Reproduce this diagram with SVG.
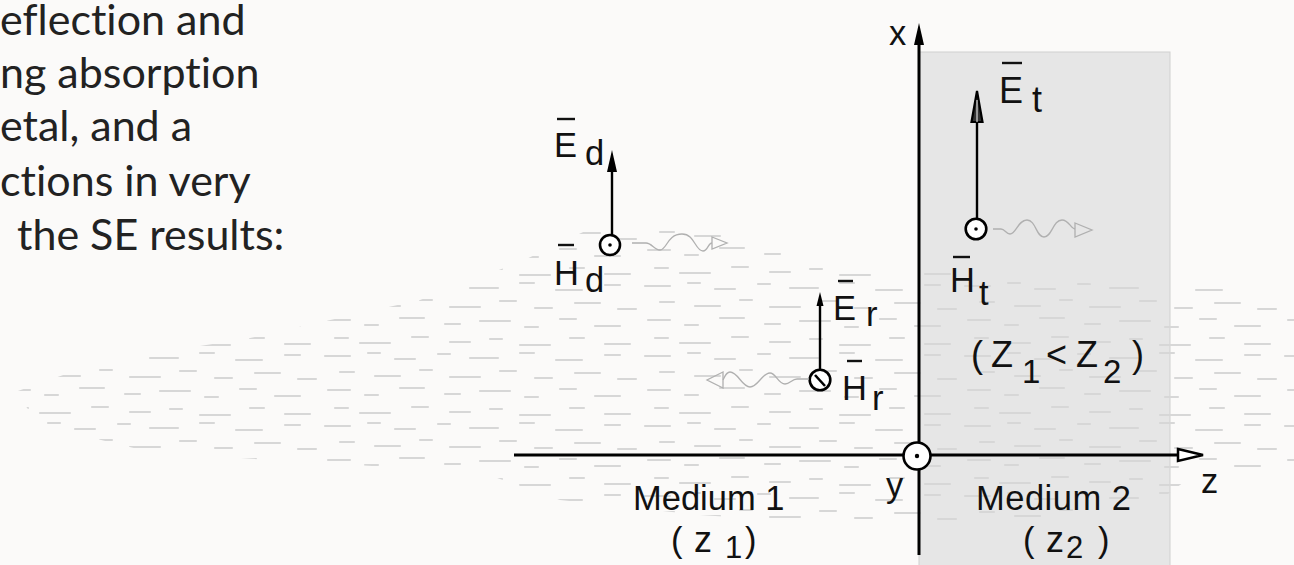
<svg xmlns="http://www.w3.org/2000/svg" width="1294" height="565" viewBox="0 0 1294 565">
<style>
.bg{fill:#fbfaf9}
.para{font-family:Lato,"Open Sans","Liberation Sans",sans-serif;font-size:43px;fill:#222;font-variant-ligatures:none}
.lbl{font-family:"Liberation Sans",Arial,sans-serif;font-size:34.5px;fill:#111}
.big{font-size:36px}
.sub{font-size:33px}
.sub2{font-size:31px}
.ax{stroke:#000;stroke-width:3;fill:none}
.vec{stroke:#000;stroke-width:2.4;fill:none}
.bar{stroke:#111;stroke-width:2.4}
.head{fill:#000}
.ring{fill:#fff;stroke:#000;stroke-width:2.6}
.dot{fill:#000}
.wave{fill:none;stroke:#b0b0b0;stroke-width:1.3}
.dash line{stroke:#d7d7d7;stroke-width:2.1;stroke-linecap:round}
</style>
<defs>
<pattern id="dashes" width="320" height="70" patternUnits="userSpaceOnUse">
<g class="dash">
<line x1="5" y1="6" x2="30" y2="6"/><line x1="48" y1="3" x2="60" y2="3"/><line x1="75" y1="9" x2="95" y2="9"/><line x1="118" y1="4" x2="130" y2="4"/><line x1="150" y1="8" x2="178" y2="8"/><line x1="200" y1="3" x2="214" y2="3"/><line x1="236" y1="10" x2="262" y2="10"/><line x1="285" y1="5" x2="300" y2="5"/>
<line x1="20" y1="22" x2="34" y2="22"/><line x1="55" y1="26" x2="80" y2="26"/><line x1="100" y1="20" x2="112" y2="20"/><line x1="130" y1="27" x2="160" y2="27"/><line x1="180" y1="21" x2="196" y2="21"/><line x1="215" y1="28" x2="232" y2="28"/><line x1="255" y1="23" x2="280" y2="23"/><line x1="298" y1="29" x2="316" y2="29"/>
<line x1="8" y1="40" x2="30" y2="40"/><line x1="45" y1="45" x2="58" y2="45"/><line x1="80" y1="38" x2="104" y2="38"/><line x1="125" y1="44" x2="140" y2="44"/><line x1="160" y1="41" x2="190" y2="41"/><line x1="205" y1="47" x2="218" y2="47"/><line x1="240" y1="39" x2="256" y2="39"/><line x1="275" y1="46" x2="300" y2="46"/>
<line x1="15" y1="58" x2="28" y2="58"/><line x1="40" y1="63" x2="70" y2="63"/><line x1="92" y1="57" x2="108" y2="57"/><line x1="130" y1="62" x2="150" y2="62"/><line x1="170" y1="59" x2="182" y2="59"/><line x1="200" y1="65" x2="230" y2="65"/><line x1="250" y1="58" x2="264" y2="58"/><line x1="285" y1="64" x2="310" y2="64"/>
</g>
</pattern>
<clipPath id="cloud">
<polygon points="15,392 100,362 250,338 420,300 520,262 600,224 700,222 780,250 860,268 950,272 1100,284 1200,288 1294,292 1294,470 1200,470 1160,500 1000,525 850,525 700,515 560,500 480,472 300,462 150,452 40,425"/>
</clipPath>
</defs>
<rect class="bg" x="0" y="0" width="1294" height="565"/>

<g id="paragraph">
<text class="para" x="0" y="35">eflection and</text>
<text class="para" x="0" y="88">ng absorption</text>
<text class="para" x="0" y="141">etal, and a</text>
<text class="para" x="0" y="196">ctions in very</text>
<text class="para" x="17" y="250">the SE results:</text>
</g>

<g id="medium2-region">
<rect x="919" y="52" width="251" height="520" fill="#e6e6e6" stroke="#d0d0d0" stroke-width="1"/>
</g>

<g id="texture">
<rect x="0" y="200" width="1294" height="340" fill="url(#dashes)" clip-path="url(#cloud)"/>
</g>

<g id="connectors">
<line class="ax" x1="919" y1="555" x2="919" y2="40"/>
<polygon class="head" points="919,23 914,45 924,45"/>
<line class="ax" x1="514" y1="455" x2="1180" y2="455"/>
<polygon points="1178,449 1203,455 1178,461" fill="#fff" stroke="#000" stroke-width="2.5"/>
</g>

<g id="origin">
<circle class="ring" cx="917" cy="456" r="13.5" stroke-width="3"/>
<circle class="dot" cx="917" cy="456" r="2.2"/>
</g>

<g id="axis-labels">
<text class="lbl" x="889" y="45">x</text>
<text class="lbl" x="886" y="497">y</text>
<text class="lbl" x="1201" y="493">z</text>
</g>

<g id="wave-d">
<line class="vec" x1="612" y1="235" x2="612" y2="168"/>
<polygon class="head" points="612,150 607,172 617,172"/>
<circle class="ring" cx="610" cy="245" r="10"/>
<circle class="dot" cx="610" cy="245" r="1.8"/>
<path class="wave" d="M632,243 H646 C652,243 654,250 660,250 C667,250 667,234 682,234 C695,234 695,251 703,251 C708,251 708,243 712,243"/>
<path class="wave" d="M712,237 L727,243 L712,249 Z"/>
<line class="bar" x1="557" y1="119" x2="575" y2="119"/>
<text class="lbl" x="554" y="157">E</text>
<text class="lbl" x="585" y="165">d</text>
<line class="bar" x1="558" y1="245" x2="574" y2="245"/>
<text class="lbl" x="554" y="285">H</text>
<text class="lbl" x="585" y="292">d</text>
</g>

<g id="wave-t">
<line class="vec" x1="977" y1="218" x2="977" y2="100"/>
<polygon points="977,91 971.5,122 982.5,122" fill="#333" stroke="#000" stroke-width="2.2"/>
<line x1="977" y1="122" x2="977" y2="100" stroke="#fff" stroke-width="1"/>
<circle class="ring" cx="976" cy="229" r="10.3"/>
<circle class="dot" cx="976" cy="229" r="1.8"/>
<path class="wave" d="M993,229 H1001 C1005,229 1006,234 1010,234 C1016,234 1018,220 1027,220 C1036,220 1036,237 1044,237 C1052,237 1053,220 1062,220 C1069,220 1071,229 1075,229"/>
<path class="wave" d="M1075,223 L1092,230 L1075,237 Z"/>
<line class="bar" x1="1002" y1="63" x2="1022" y2="63"/>
<text class="lbl big" x="999" y="103">E</text>
<text class="lbl big" x="1032" y="112">t</text>
<line class="bar" x1="953" y1="257" x2="970" y2="257"/>
<text class="lbl" x="950" y="292">H</text>
<text class="lbl" x="979" y="305">t</text>
</g>

<g id="wave-r">
<line class="vec" x1="820" y1="369" x2="820" y2="302"/>
<polygon class="head" points="820,292 816.5,306 823.5,306"/>
<circle class="ring" cx="820" cy="380" r="10.3"/>
<line x1="815" y1="375" x2="825" y2="386" stroke="#000" stroke-width="2.6"/>
<path class="wave" d="M809,379 H797 C792,379 790,384 785,384 C778,384 776,373 770,373 C762,373 758,387 750,387 C742,387 738,372 730,372 C726,372 724,378 723,380"/>
<path class="wave" d="M723,372 L707,380 L723,388 Z"/>
<line class="bar" x1="838" y1="281" x2="853" y2="281"/>
<text class="lbl" x="833" y="320">E</text>
<text class="lbl" x="866" y="326">r</text>
<line class="bar" x1="847" y1="361" x2="862" y2="361"/>
<text class="lbl" x="842" y="400">H</text>
<text class="lbl" x="872" y="410">r</text>
</g>

<g id="ratio">
<text class="lbl big" x="971" y="367">(</text>
<text class="lbl big" x="991" y="367">Z</text>
<text class="lbl sub" x="1022" y="383">1</text>
<text class="lbl big" x="1046" y="367">&lt;</text>
<text class="lbl big" x="1076" y="367">Z</text>
<text class="lbl sub" x="1103" y="383">2</text>
<text class="lbl big" x="1132" y="367">)</text>
</g>

<g id="medium1">
<text class="lbl" x="633" y="510">Medium 1</text>
<text class="lbl" x="671" y="552">(</text>
<text class="lbl big" x="694" y="552">z</text>
<text class="lbl sub2" x="725" y="558">1</text>
<text class="lbl" x="745" y="552">)</text>
</g>

<g id="medium2">
<text class="lbl" x="976" y="510" letter-spacing="0.5">Medium 2</text>
<text class="lbl" x="1023" y="552">(</text>
<text class="lbl big" x="1046" y="552">z</text>
<text class="lbl sub2" x="1066" y="558">2</text>
<text class="lbl" x="1098" y="552">)</text>
</g>
</svg>
